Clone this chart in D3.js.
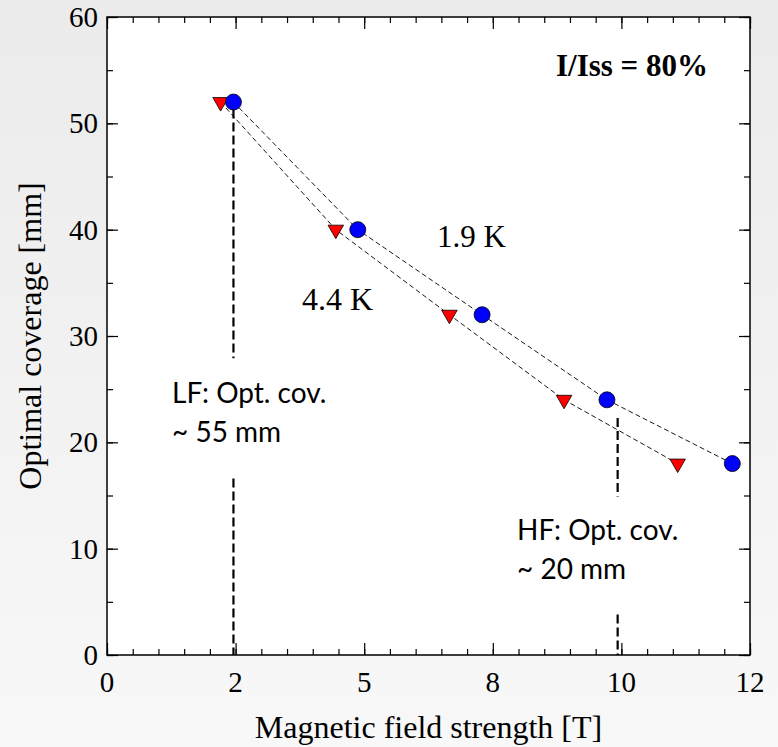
<!DOCTYPE html>
<html>
  <head>
    <meta charset='utf-8'>
    <script src='https://d3js.org/d3.v7.min.js'></script>
    <style>
      body { margin: 0; }
      svg { display: block; }
    </style>
  </head>
<body>
  <script type='text/javascript'>
  'use strict';

  // 1.9 K series (blue circles)
  var fieldCold = [2.36, 4.68, 7.00, 9.33, 11.67];
  var coverCold = [52, 40, 32, 24, 18];
  // 4.4 K series (red triangles)
  var fieldWarm = [2.12, 4.27, 6.39, 8.53, 10.65];
  var coverWarm = [52, 40, 32, 24, 18];

  // x axis: major ticks every 2.4 T, labels as printed on the original
  var xMajor = [0, 2.4, 4.8, 7.2, 9.6, 12];
  var xLabels = ['0', '2', '5', '8', '10', '12'];
  var yMajor = [0, 10, 20, 30, 40, 50, 60];

  // vertical guide lines [x, y0, y1] (two pieces each, gap for the note)
  var guides = [
    [2.36, 51.3, 27.9], [2.36, 16.6, 0],
    [9.53, 22.3, 14.9], [9.53, 3.8, 0]
  ];

  var WIDTH = 778, HEIGHT = 747;
  var margin = {left: 107, right: 28, top: 17, bottom: 92};

  var svg = d3.select('body')
    .append('svg')
    .attr('width', WIDTH)
    .attr('height', HEIGHT);

  var grad = svg.append('defs').append('linearGradient')
    .attr('id', 'bg')
    .attr('x1', 0).attr('y1', 0).attr('x2', 0).attr('y2', 1);
  grad.append('stop').attr('offset', '0%').attr('stop-color', '#ebebeb');
  grad.append('stop').attr('offset', '100%').attr('stop-color', '#f8f8f8');

  svg.append('rect')
    .attr('width', WIDTH)
    .attr('height', HEIGHT)
    .attr('fill', 'url(#bg)');

  var x = d3.scaleLinear().domain([0, 12]).range([margin.left, WIDTH - margin.right]);
  var y = d3.scaleLinear().domain([0, 60]).range([HEIGHT - margin.bottom, margin.top]);

  // plot area
  svg.append('rect')
    .attr('x', x(0))
    .attr('y', y(60))
    .attr('width', x(12) - x(0))
    .attr('height', y(0) - y(60))
    .attr('fill', 'white');

  //////////////////////////////////////////////////////////////////
  // axes (ticks point inward, on all four sides)
  //////////////////////////////////////////////////////////////////
  var xMinor = d3.range(0, 26).map(function (i) { return i * 0.48; });
  var yMinor = d3.range(0, 13).map(function (i) { return i * 5; });

  function ticks(g, axis) {
    g.call(axis);
    g.select('.domain').remove();
    g.selectAll('line').attr('stroke', '#000').attr('stroke-width', 1.2);
  }

  svg.append('g')
    .attr('transform', 'translate(0,' + y(0) + ')')
    .call(ticks, d3.axisTop(x).tickValues(xMinor).tickSize(6).tickFormat(''));
  svg.append('g')
    .attr('transform', 'translate(0,' + y(0) + ')')
    .call(ticks, d3.axisTop(x).tickValues(xMajor).tickSize(12).tickFormat(''));
  svg.append('g')
    .attr('transform', 'translate(0,' + y(60) + ')')
    .call(ticks, d3.axisBottom(x).tickValues(xMinor).tickSize(6).tickFormat(''));
  svg.append('g')
    .attr('transform', 'translate(0,' + y(60) + ')')
    .call(ticks, d3.axisBottom(x).tickValues(xMajor).tickSize(12).tickFormat(''));

  svg.append('g')
    .attr('transform', 'translate(' + x(0) + ',0)')
    .call(ticks, d3.axisRight(y).tickValues(yMinor).tickSize(6).tickFormat(''));
  svg.append('g')
    .attr('transform', 'translate(' + x(0) + ',0)')
    .call(ticks, d3.axisRight(y).tickValues(yMajor).tickSize(11).tickFormat(''));
  svg.append('g')
    .attr('transform', 'translate(' + x(12) + ',0)')
    .call(ticks, d3.axisLeft(y).tickValues(yMinor).tickSize(6).tickFormat(''));
  svg.append('g')
    .attr('transform', 'translate(' + x(12) + ',0)')
    .call(ticks, d3.axisLeft(y).tickValues(yMajor).tickSize(11).tickFormat(''));

  // tick labels
  var serif = "'Liberation Serif', 'Times New Roman', serif";

  svg.selectAll('.xlab')
    .data(xMajor)
    .enter()
    .append('text')
    .attr('x', function (d) { return x(d); })
    .attr('y', 692)
    .attr('text-anchor', 'middle')
    .style('font-family', serif)
    .style('font-size', '29px')
    .text(function (d, i) { return xLabels[i]; });

  svg.selectAll('.ylab')
    .data(yMajor)
    .enter()
    .append('text')
    .attr('x', x(0) - 9)
    .attr('y', function (d) { return y(d) + 10; })
    .attr('text-anchor', 'end')
    .style('font-family', serif)
    .style('font-size', '29px')
    .text(function (d) { return d; });

  // frame
  svg.append('rect')
    .attr('x', x(0))
    .attr('y', y(60))
    .attr('width', x(12) - x(0))
    .attr('height', y(0) - y(60))
    .attr('fill', 'none')
    .attr('stroke', '#000')
    .attr('stroke-width', 1.5);

  // axis titles
  svg.append('text')
    .attr('x', (x(0) + x(12)) / 2)
    .attr('y', 738)
    .attr('text-anchor', 'middle')
    .style('font-family', serif)
    .style('font-size', '32px')
    .text('Magnetic field strength [T]');

  svg.append('text')
    .attr('transform', 'translate(41,' + (y(0) + y(60)) / 2 + ') rotate(-90)')
    .attr('text-anchor', 'middle')
    .style('font-family', serif)
    .style('font-size', '32px')
    .text('Optimal coverage [mm]');

  //////////////////////////////////////////////////////////////////
  // guide lines
  //////////////////////////////////////////////////////////////////
  svg.selectAll('.guide')
    .data(guides)
    .enter()
    .append('line')
    .attr('x1', function (d) { return x(d[0]); })
    .attr('x2', function (d) { return x(d[0]); })
    .attr('y1', function (d) { return y(d[1]); })
    .attr('y2', function (d) { return y(d[2]); })
    .attr('stroke', '#000')
    .attr('stroke-width', 2.2)
    .attr('stroke-dasharray', '9,4');

  //////////////////////////////////////////////////////////////////
  // series
  //////////////////////////////////////////////////////////////////
  var line = d3.line()
    .x(function (d) { return x(d[0]); })
    .y(function (d) { return y(d[1]); });

  var cold = d3.zip(fieldCold, coverCold);
  var warm = d3.zip(fieldWarm, coverWarm);

  [cold, warm].forEach(function (s) {
    svg.append('path')
      .datum(s)
      .attr('d', line)
      .attr('fill', 'none')
      .attr('stroke', '#000')
      .attr('stroke-width', 0.9)
      .attr('stroke-dasharray', '5,3');
  });

  svg.selectAll('.warm')
    .data(warm)
    .enter()
    .append('path')
    .attr('d', d3.symbol().type(d3.symbolTriangle).size(105))
    .attr('transform', function (d) {
      return 'translate(' + x(d[0]) + ',' + y(d[1]) + ') rotate(180)';
    })
    .attr('fill', '#ff0000')
    .attr('stroke', '#000')
    .attr('stroke-width', 0.8);

  svg.selectAll('.cold')
    .data(cold)
    .enter()
    .append('circle')
    .attr('cx', function (d) { return x(d[0]); })
    .attr('cy', function (d) { return y(d[1]); })
    .attr('r', 8)
    .attr('fill', '#0000ff')
    .attr('stroke', '#000')
    .attr('stroke-width', 0.8);

  //////////////////////////////////////////////////////////////////
  // notes
  //////////////////////////////////////////////////////////////////
  svg.append('text')
    .attr('x', 708)
    .attr('y', 76)
    .attr('text-anchor', 'end')
    .style('font-family', serif)
    .style('font-size', '31px')
    .style('font-weight', 'bold')
    .text('I/Iss = 80%');

  svg.append('text')
    .attr('x', 437).attr('y', 247)
    .style('font-family', serif)
    .style('font-size', '31px')
    .text('1.9 K');

  svg.append('text')
    .attr('x', 302).attr('y', 310)
    .style('font-family', serif)
    .style('font-size', '32px')
    .text('4.4 K');

  var sans = "Lato, 'Open Sans', sans-serif";

  svg.selectAll('.lf')
    .data(['LF: Opt. cov.', '~ 55 mm'])
    .enter()
    .append('text')
    .attr('x', 172)
    .attr('y', function (d, i) { return 403 + i * 38.5; })
    .style('font-family', sans)
    .style('font-size', '28px')
    .text(function (d) { return d; });

  svg.selectAll('.hf')
    .data(['HF: Opt. cov.', '~ 20 mm'])
    .enter()
    .append('text')
    .attr('x', 517)
    .attr('y', function (d, i) { return 540 + i * 38.5; })
    .style('font-family', sans)
    .style('font-size', '28px')
    .text(function (d) { return d; });
  </script>
</body>
</html>
